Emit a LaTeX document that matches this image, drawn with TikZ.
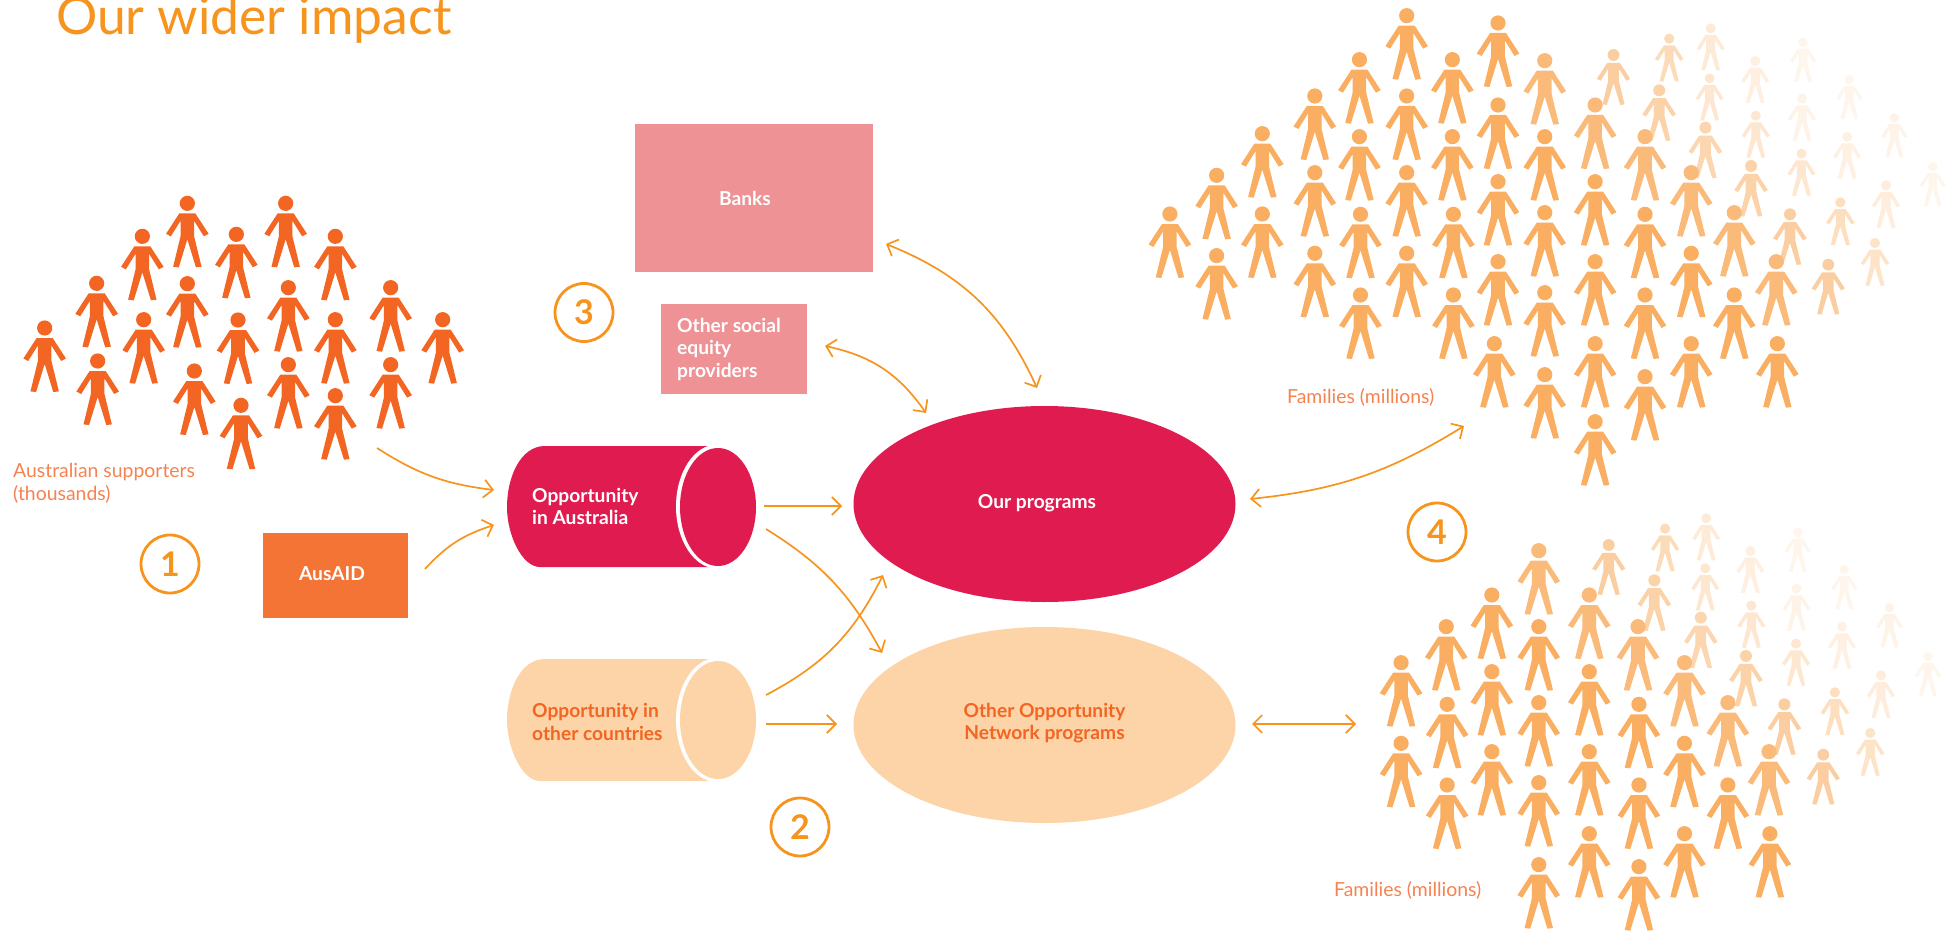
\documentclass[tikz,border=0pt]{standalone}
\usepackage{fontspec}
\setmainfont{Lato}
\usetikzlibrary{arrows.meta,shapes.geometric,bending}
\definecolor{pl}{HTML}{F26522}
\definecolor{fam}{HTML}{F9AE62}
\definecolor{arr}{HTML}{F7941E}
\definecolor{crim}{HTML}{DF1B50}
\definecolor{peach}{HTML}{FDD3A8}
\definecolor{pinkb}{HTML}{EF9295}
\definecolor{ausa}{HTML}{F47435}
\definecolor{lab}{HTML}{F58250}
\definecolor{ttl}{HTML}{F7941E}
\newcommand\person[4]{%
  \fill[#4,shift={(#1,#2)},scale=#3] (0,0) circle (7.6)
   (0,10) -- (8,10) -- (21.3,30.5) -- (16.5,33) -- (6.8,17.5) -- (6.8,33) -- (14.2,63.4) -- (8.6,64) -- (0,36)
   -- (-8.6,64) -- (-14.2,63.4) -- (-6.8,33) -- (-6.8,17.5) -- (-16.5,33) -- (-21.3,30.5) -- (-8,10) -- cycle;}
\newcommand\faintgroup[2]{% offset, x factor
  \foreach \x/\y/\s/\o in {1282/127/.62/12,1529/500/.62/12,1370/239/.62/12,1456/353/.62/15,1366/410/.66/17,1280/296/.66/15,1191/183/.66/20,1106/85/.66/25,1440/556/.67/22,1279/461/.66/30,1192/347/.66/30,1104/235/.66/30,1027/116/.67/45,1419/729/.67/35,1353/607/.67/40,1096/383/.79/50,1008/271/.79/55,1183/498/.79/55,921/165/.78/60,1257/643/.79/60,1330/794/.78/60}
  {\person{#1+\x*#2}{\y/3}{\s}{fam!\o!white}}}
\tikzset{
  conn/.style={draw=arr,line width=1.7pt,-{Straight Barb[length=9pt,width=18pt,bend]}},
  dconn/.style={draw=arr,line width=1.7pt,{Straight Barb[length=9pt,width=18pt,bend]}-{Straight Barb[length=9pt,width=18pt,bend]}},
  numc/.style={circle,draw=arr,line width=2.8pt,minimum size=58pt,inner sep=0pt,text=arr,font=\fontsize{34}{34}\selectfont\bfseries},
  boxt/.style={inner sep=0pt,font=\fontsize{19.2}{22.5}\selectfont\bfseries,align=left},
  note/.style={inner sep=0pt,text=lab,font=\fontsize{19.4}{23}\selectfont,align=left},
  blob/.style={ellipse,minimum width=382pt,minimum height=196pt,inner sep=0pt},
}
\begin{document}
\begin{tikzpicture}[x=1pt,y=-1pt]
\useasboundingbox (0,0) rectangle (1952,931);
% title
\node[inner sep=0pt,anchor=base west,text=ttl,font=\fontsize{51.6}{52}\selectfont] (title) at (56,35) {Our wider impact};
% supporters
\foreach \x/\y in {134/474,290/340,293/573,427/199,431/449,562/100,562/341,583/603,709/193,714/450,723/706,857/100,865/353,865/584,1006/199,1006/449,1006/677,1172/353,1172/584,1328/449}
  {\person{\x/3}{170+\y/3}{1}{pl}}
% families, upper
\faintgroup{1130}{.525}
\foreach \x/\y/\o in {76/642/100,165/526/100,165/767/100,252/401/100,252/642/100,352/288/100,352/518/100,352/760/100,437/179/100,437/410/100,439/643/100,439/885/100,527/47/100,527/288/100,527/518/100,527/760/100,614/179/100,614/410/100,616/643/100,616/885/100,701/69/100,701/315/100,701/545/100,701/785/100,694/1031/100,790/182/85,790/410/100,790/638/100,790/878/100,790/1124/100,886/315/85,886/545/100,886/785/100,886/1031/100,886/1265/100,981/410/85,981/643/100,981/885/100,981/1130/100,1069/518/85,1069/760/100,1069/1031/100,1151/638/85,1151/885/100,1231/785/85,1233/1031/100}
  {\person{1130+\x*.525}{\y/3}{1}{fam!\o!white}}
% families, lower
\begin{scope}[shift={(0,490)}]
\foreach \x/\y/\s/\o in {1221/127/.62/12,1512/500/.62/12,1325/239/.62/12,1426/353/.62/15,1320/410/.66/17,1218/296/.66/15,1115/183/.66/20,1016/85/.66/25,1407/556/.67/22,1217/461/.66/30,1117/347/.66/30,1014/235/.66/30,924/116/.67/45,1383/729/.67/35,1304/607/.67/40,1004/383/.79/50,900/271/.79/55,1105/498/.79/55,798/165/.78/60,1191/643/.79/60,1278/794/.78/60}
  {\person{1252+\x*.447}{\y/3}{\s}{fam!\o!white}}
\foreach \x/\y/\o in {646/182/85,759/315/85,868/410/85,972/518/85,1069/638/85,1161/785/85,338/518/100,338/760/100,439/410/100,441/643/100,441/885/100,541/315/100,541/545/100,541/785/100,646/410/100,646/638/100,646/878/100,646/1124/100,759/545/100,759/785/100,759/1031/100,870/643/100,870/885/100,870/1130/100,972/760/100,972/1031/100,1069/885/100,1163/1031/100}
  {\person{1250+\x*.447}{\y/3}{1}{fam!\o!white}}
\end{scope}
% boxes
\node[fill=pinkb,minimum width=238pt,minimum height=148pt,inner sep=0pt] (banks) at (754,198) {};
\node[boxt,text=white] (bankst) at (745,198) {Banks};
\node[fill=pinkb,minimum width=146pt,minimum height=90pt,inner sep=0pt] (social) at (734,349) {};
\node[boxt,text=white,anchor=west] (socialt) at (677,349) {Other social\\equity\\providers};
\node[fill=ausa,minimum width=145pt,minimum height=85pt,inner sep=0pt] (ausaid) at (335.5,575.5) {};
\node[boxt,text=white] (ausaidt) at (332,574) {AusAID};
% ellipses
\node[blob,fill=crim] (prog) at (1044.5,504) {};
\node[boxt,text=white] (progt) at (1037,503) {Our programs};
\node[blob,fill=peach] (other) at (1044.5,725) {};
\node[boxt,text=pl,align=center] (othert) at (1044.5,723) {Other Opportunity\\Network programs};
% cylinders
\fill[crim] (718,446) -- (545,446) .. controls (520,446) and (507,478) .. (507,507) .. controls (507,535) and (522,567) .. (540,567) -- (718,567) -- cycle;
\fill[white] (717,506.5) ellipse (41 and 62);
\node[ellipse,fill=crim,minimum width=76pt,minimum height=118pt,inner sep=0pt] (cyla) at (718,507) {};
\node[boxt,text=white,anchor=west] (cylat) at (532,506.5) {Opportunity\\in Australia};
\fill[peach] (718,659) -- (545,659) .. controls (520,659) and (507,691) .. (507,720) .. controls (507,748) and (522,781) .. (540,781) -- (718,781) -- cycle;
\fill[white] (717,720) ellipse (41 and 62);
\node[ellipse,fill=peach,minimum width=76pt,minimum height=118pt,inner sep=0pt] (cylb) at (718,720) {};
\node[boxt,text=pl,anchor=west] (cylbt) at (532,722) {Opportunity in\\other countries};
% captions
\node[note,anchor=west] (sup) at (13,483.5) {Australian supporters\\(thousands)};
\node[note,anchor=base west] (fam1) at (1287,403) {Families (millions)};
\node[note,anchor=base west] (fam2) at (1334,896) {Families (millions)};
% numbers
\node[numc] (n1) at (170,564) {1};
\node[numc] (n2) at (800,827) {2};
\node[numc] (n3) at (584,312.5) {3};
\node[numc] (n4) at (1437,532) {4};
% connector ends
\coordinate (a1) at (377,448); \coordinate (a2) at (494,490);
\coordinate (b1) at (425,569); \coordinate (b2) at (494,525);
\coordinate (c1) at (764,506); \coordinate (c2) at (842,506);
\coordinate (d1) at (766,529); \coordinate (d2) at (882,653);
\coordinate (e1) at (766,695); \coordinate (e2) at (883,575);
\coordinate (f1) at (766,724); \coordinate (f2) at (837,724);
\coordinate (g1) at (886,244); \coordinate (g2) at (1037,388);
\coordinate (h1) at (825,346); \coordinate (h2) at (926,413);
\coordinate (i1) at (1250,499); \coordinate (i2) at (1464,426);
\coordinate (j1) at (1252,724); \coordinate (j2) at (1356,724);
\draw[conn] (a1) to[bend right=13] (a2);
\draw[conn] (b1) to[bend left=15] (b2);
\draw[conn] (c1) -- (c2);
\draw[conn] (d1) to[bend left=15] (d2);
\draw[conn] (e1) to[bend right=18] (e2);
\draw[conn] (f1) -- (f2);
\draw[dconn] (g1) to[bend left=22] (g2);
\draw[dconn] (h1) to[bend left=22] (h2);
\draw[dconn] (i1) to[bend right=13] (i2);
\draw[dconn] (j1) -- (j2);
\end{tikzpicture}
\end{document}
